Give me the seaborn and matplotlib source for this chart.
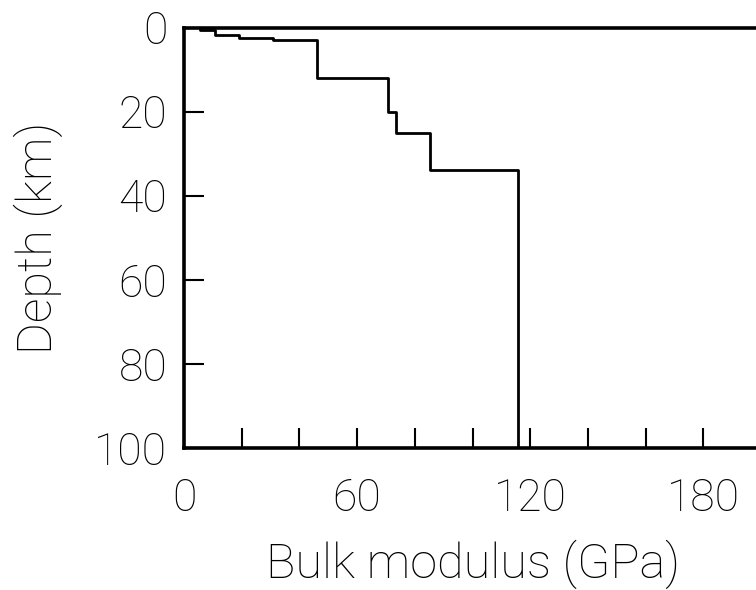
import numpy as np
import matplotlib
matplotlib.use("Agg")
import matplotlib.pyplot as plt
import seaborn as sns
from matplotlib.ticker import MultipleLocator

# Layered model: bulk modulus (GPa) of each layer and depth (km) of its top
bulk_modulus = [5.5, 10.6, 19.1, 31.0, 46.0, 70.6, 73.6, 85.3, 115.7]
layer_top = [0, 0.7, 1.8, 2.5, 2.9, 12, 20, 25, 34]
model_bottom = 100

x_ticklabels = ["0", "60", "120", "180"]
y_ticklabels = ["0", "20", "40", "60", "80", "100"]

sns.set_theme(style="white")
plt.rcParams["font.family"] = ["Roboto", "DejaVu Sans"]

layer_bottom = layer_top[1:] + [model_bottom]
xs = np.repeat(bulk_modulus, 2)
ys = np.ravel(np.column_stack([layer_top, layer_bottom]))

fig = plt.figure(figsize=(7.56, 5.9), dpi=100)
ax = fig.add_axes([184 / 756, 1 - 448 / 590, 577 / 756, 420.5 / 590])

sns.lineplot(x=xs, y=ys, sort=False, estimator=None, color="black",
             linewidth=2.0, ax=ax)

ax.set_xlim(0, 200)
ax.set_ylim(100, 0)

ax.xaxis.set_major_locator(MultipleLocator(60))
ax.xaxis.set_minor_locator(MultipleLocator(20))
ax.set_xticks([0, 60, 120, 180])
ax.set_xticklabels(x_ticklabels)
ax.set_yticks([0, 20, 40, 60, 80, 100])
ax.set_yticklabels(y_ticklabels)

fs = 32
tick_kw = dict(direction="in", length=14.5, width=1.5, color="black")
ax.tick_params(axis="x", which="both", bottom=True, top=False, pad=21,
               labelsize=fs, labelcolor="black", **tick_kw)
ax.tick_params(axis="y", which="both", left=True, right=False, pad=12,
               labelsize=fs, labelcolor="black", **tick_kw)
for lab in ax.get_xticklabels() + ax.get_yticklabels():
    lab.set_fontweight("light")

for side in ["left", "top", "bottom"]:
    ax.spines[side].set_visible(True)
    ax.spines[side].set_linewidth(2.6)
    ax.spines[side].set_color("black")
ax.spines["right"].set_visible(False)

ax.set_xlabel("Bulk modulus (GPa)", fontsize=35, fontweight="light",
              color="black", va="center")
ax.xaxis.set_label_coords(0.5, -(564 - 448) / 420.5)
ax.set_ylabel("Depth (km)", fontsize=35, fontweight="light",
              color="black", va="center")
ax.yaxis.set_label_coords((38 - 184) / 577, 0.5)

fig.savefig("out.png", dpi=100)
